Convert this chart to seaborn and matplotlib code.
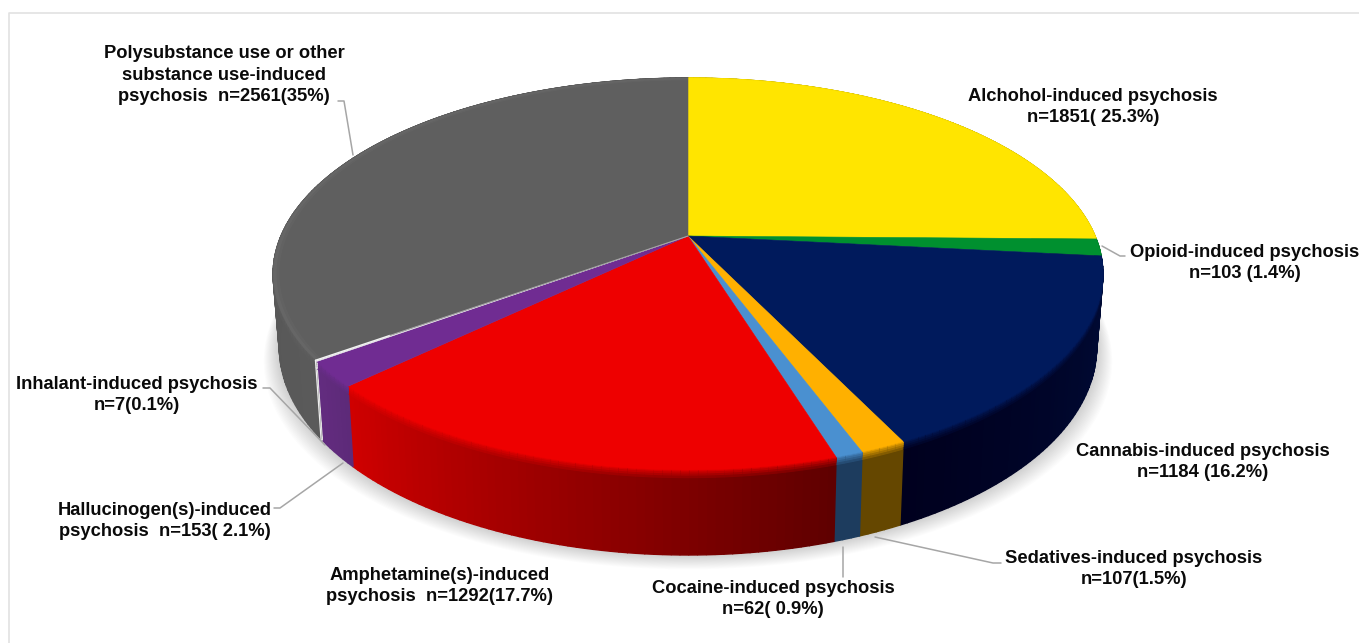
import numpy as np
import pandas as pd
import seaborn as sns
import matplotlib
matplotlib.use("Agg")
import matplotlib.pyplot as plt
from matplotlib.colors import to_rgb

# ---- data ----
categories = ["Alchohol", "Opioid", "Cannabis", "Sedatives", "Cocaine",
              "Amphetamine(s)", "Hallucinogen(s)", "Inhalant", "Polysubstance"]
counts = [1851, 103, 1184, 107, 62, 1292, 153, 7, 2561]
percents = [25.3, 1.4, 16.2, 1.5, 0.9, 17.7, 2.1, 0.1, 35.0]
label_texts = [
    "Alchohol-induced psychosis\nn=1851( 25.3%)",
    "Opioid-induced psychosis\nn=103 (1.4%)",
    "Cannabis-induced psychosis\nn=1184 (16.2%)",
    "Sedatives-induced psychosis\nn=107(1.5%)",
    "Cocaine-induced psychosis\nn=62( 0.9%)",
    "Amphetamine(s)-induced\npsychosis  n=1292(17.7%)",
    "Hallucinogen(s)-induced\npsychosis  n=153( 2.1%)",
    "Inhalant-induced psychosis\nn=7(0.1%)",
    "Polysubstance use or other\nsubstance use-induced\npsychosis  n=2561(35%)",
]
top_colors = ["#FFE500", "#00902F", "#001A5C", "#FFB000", "#4A90D0",
              "#EE0000", "#702C92", "#EDEDED", "#5F5F5F"]
side_start = ["#B8A500", "#006020", "#000C38", "#654700", "#1D3C5E",
              "#5E0000", "#5C2A78", "#E0E0E0", "#5A5A5A"]
side_end = ["#B8A500", "#006020", "#00001E", "#654700", "#1D3C5E",
            "#D00000", "#632C80", "#E0E0E0", "#505050"]

# ---- layout ----
label_x = [1093, 1245, 1203, 1134, 773, 440, 165, 137, 224]
label_y = [107, 263, 462, 569, 599, 586, 521, 395, 75]
leaders = [
    None,
    [(1102, 246), (1120, 256), (1125, 256)],
    None,
    [(875, 537), (993, 563), (1001, 563)],
    [(843, 547), (843, 577)],
    None,
    [(343, 463), (280, 508), (274, 508)],
    [(263, 388), (270, 388), (325, 445)],
    [(338, 101), (344, 101), (353, 155)],
]
CX, CY = 688, 236          # apex of the pie on the page
P, A, B = 0.194, 188.6, 407  # perspective of the tilted disc


def project(theta):
    """Angle on the disc (clockwise from top) to page position."""
    x, y = np.sin(theta), np.cos(theta)
    w = 1 + P * y
    return CX + B * x / w, CY - A * y / w


def rim_bottom(theta):
    x, y = np.sin(theta), np.cos(theta)
    px, py = project(theta)
    depth = 70 + 15 * np.clip(-y, 0, 1)
    return CX + (px - CX) * 0.985, py + depth


def mix(c1, c2, t):
    return tuple((1 - t) * a + t * b for a, b in zip(to_rgb(c1), to_rgb(c2)))


sns.set_theme(style="white")
plt.rcParams["font.family"] = ["Liberation Sans", "DejaVu Sans"]

df = pd.DataFrame({"category": categories, "n": counts, "pct": percents,
                   "top": sns.color_palette(top_colors)})
edges = np.radians(np.concatenate([[0], np.cumsum(df["pct"]) / df["pct"].sum() * 360]))

fig = plt.figure(figsize=(13.59, 6.43), dpi=100)
ax = fig.add_axes([0, 0, 1, 1])
ax.set_xlim(0, 1359)
ax.set_ylim(643, 0)
ax.axis("off")

# panel frame
ax.plot([8.5, 8.5, 1359], [643, 12.5, 12.5], color="#E2E2E2", lw=1.2)

# soft shadow round the base
full = np.linspace(0, 2 * np.pi, 361)
bx, by = rim_bottom(full)
for k in range(16, 0, -1):
    sx = CX + (bx - CX) * (1 + k / 420)
    sy = by + k * 0.9
    ax.fill(sx, sy, color="#000000", alpha=0.011, lw=0, zorder=1)

# side wall
for i in range(len(df)):
    a0, a1 = edges[i], edges[i + 1]
    steps = max(2, int(np.degrees(a1 - a0)))
    th = np.linspace(a0, a1, steps + 1)
    for j in range(steps):
        t = (j + 0.5) / steps
        base = mix(side_start[i], side_end[i], t)
        seg = th[j:j + 2]
        tx, ty = project(seg)
        ux, uy = rim_bottom(seg)
        fx, fy = [tx[0], tx[1], ux[1], ux[0]], [ty[0], ty[1], uy[1], uy[0]]
        ax.fill(fx, fy, color=base, lw=1.0, zorder=2)
        # bevel just under the top edge
        for b, frac in enumerate([0.09, 0.06, 0.035, 0.012]):
            lx = [tx[0], tx[1], tx[1] + (ux[1] - tx[1]) * frac, tx[0] + (ux[0] - tx[0]) * frac]
            ly = [ty[0], ty[1], ty[1] + (uy[1] - ty[1]) * frac, ty[0] + (uy[0] - ty[0]) * frac]
            ax.fill(lx, ly, color=mix(base, top_colors[i], 0.2 + 0.2 * b), lw=0.8, zorder=3)

# top face
for i in range(len(df)):
    th = np.linspace(edges[i], edges[i + 1], 200)
    px, py = project(th)
    ax.fill(np.r_[CX, px], np.r_[CY, py], color=df["top"][i], lw=0.4, zorder=4)

# faint lighter rim on the grey top face
th = np.linspace(edges[8], edges[9], 200)
px, py = project(th)
for frac, al in [(0.985, 0.025), (0.992, 0.03)]:
    qx = CX + (px - CX) * frac
    qy = CY + (py - CY) * frac
    ax.fill(np.r_[qx, px[::-1]], np.r_[qy, py[::-1]], color="white", alpha=al, lw=0, zorder=5)

# white sliver of the 0.1% slice, fading towards the apex and down the wall
th_i = np.array([edges[8]])
tx, ty = project(th_i)
ux, uy = rim_bottom(th_i)
ax.plot([tx[0], ux[0]], [ty[0], uy[0]], color="#EDEDED", lw=0.9, zorder=6)
ax.plot([tx[0] + (CX - tx[0]) * 0.2, tx[0]], [ty[0] + (CY - ty[0]) * 0.2, ty[0]],
        color="#F2F2F2", lw=1.0, zorder=6)
ax.plot([CX, tx[0] + (CX - tx[0]) * 0.2], [CY, ty[0] + (CY - ty[0]) * 0.2],
        color="#A8A8A8", lw=0.7, zorder=6)

# leader lines
for pts in leaders:
    if pts:
        xs, ys = zip(*pts)
        ax.plot(xs, ys, color="#A6A6A6", lw=1.1, zorder=7)

# labels
for txt, x, y in zip(label_texts, label_x, label_y):
    ax.text(x, y, txt, ha="center", va="center", fontsize=13.2, fontweight="bold",
            color="#0A0A0A", linespacing=1.34, zorder=8)

sns.despine(ax=ax, left=True, bottom=True)
fig.savefig("out.png", dpi=100, facecolor="white")
